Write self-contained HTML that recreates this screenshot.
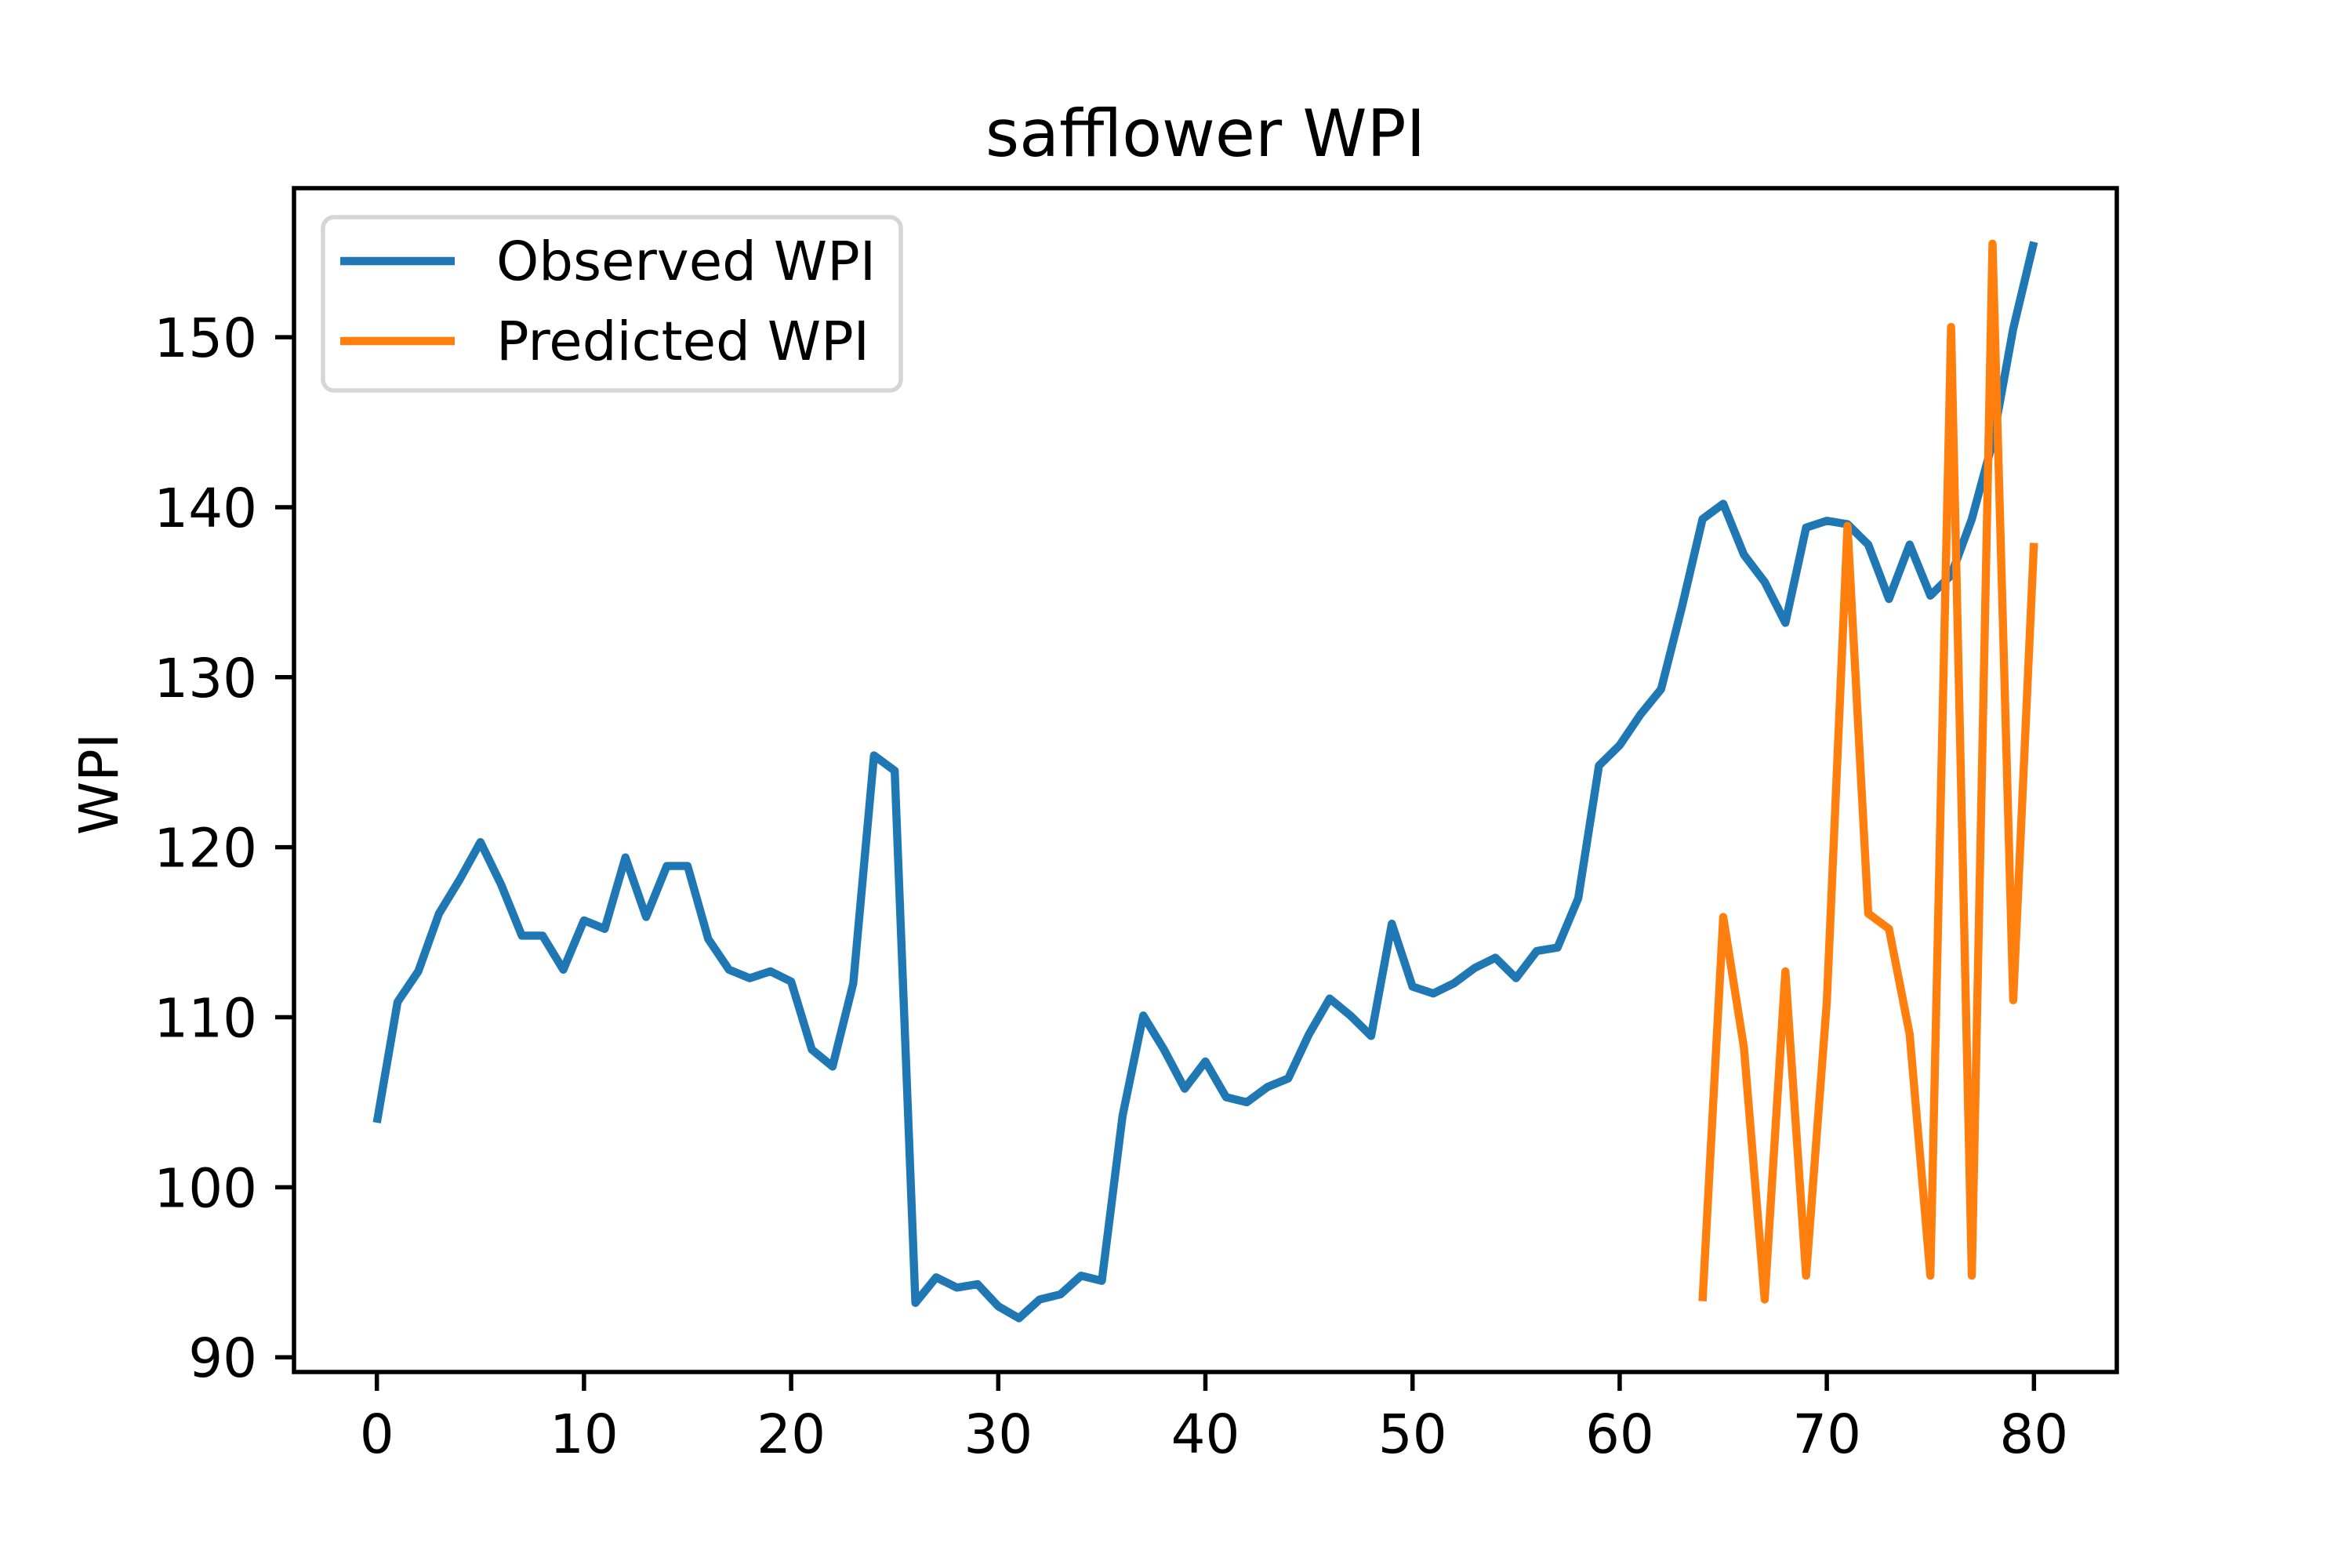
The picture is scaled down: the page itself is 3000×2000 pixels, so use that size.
<!DOCTYPE html>
<html><head><meta charset="utf-8"><style>
html,body{margin:0;padding:0;background:#fff;}
svg{display:block;font-family:"DejaVu Sans","Liberation Sans",sans-serif;}
</style></head><body>
<svg id="chart" width="3000" height="2000" viewBox="0 0 3000 2000" xmlns="http://www.w3.org/2000/svg">
<rect width="3000" height="2000" fill="#fff"/>
<text x="1537.5" y="199" font-size="83" text-anchor="middle" fill="#000">safflower WPI</text>
<text transform="translate(150,1000) rotate(-90)" font-size="69" text-anchor="middle" fill="#000">WPI</text>
<g id="plot"></g>
<rect x="375" y="240" width="2325" height="1510" fill="none" stroke="#000" stroke-width="5.5"/>
<g>
<rect x="412" y="277" width="737" height="221" rx="14" fill="#fff" fill-opacity="0.8" stroke="#d6d6d6" stroke-width="5.5"/>
<line x1="434" y1="333" x2="580" y2="333" stroke="#1f77b4" stroke-width="10.4"/>
<text x="633" y="357" font-size="69">Observed WPI</text>
<line x1="434" y1="435" x2="580" y2="435" stroke="#ff7f0e" stroke-width="10.4"/>
<text x="633" y="459" font-size="69">Predicted WPI</text>
</g>
</svg>
<script>
const observedX = Array.from({length:81},(_,i)=>i);
const observedWPI = [103.8,110.9,112.7,116.1,118.1,120.3,117.8,114.8,114.8,112.8,115.7,115.2,119.4,115.9,118.9,118.9,114.6,112.8,112.3,112.7,112.1,108.1,107.1,112.0,125.4,124.5,93.2,94.7,94.1,94.3,93.0,92.3,93.4,93.7,94.8,94.5,104.2,110.1,108.1,105.8,107.4,105.3,105.0,105.9,106.4,109.0,111.1,110.1,108.9,115.5,111.8,111.4,112.0,112.9,113.5,112.3,113.9,114.1,117.0,124.8,126.0,127.8,129.3,134.1,139.3,140.2,137.2,135.6,133.2,138.8,139.2,139.0,137.8,134.6,137.8,134.8,136.0,139.3,143.8,150.5,155.6];
const predictedX = [64,65,66,67,68,69,70,71,72,73,74,75,76,77,78,79,80];
const predictedWPI = [93.3,115.9,108.2,93.4,112.7,94.8,110.9,138.9,116.1,115.2,109.0,94.8,150.6,94.8,155.5,111.0,137.9];
const xTicks = [0,10,20,30,40,50,60,70,80];
const yTicks = [90,100,110,120,130,140,150];

const NS="http://www.w3.org/2000/svg";
const L=375,R=2700,T=240,B=1750;
const all=observedWPI.concat(predictedWPI);
const ymin0=Math.min(...all), ymax0=Math.max(...all), yr=ymax0-ymin0;
const ymin=ymin0-0.05*yr, ymax=ymax0+0.05*yr;
const xmin=-4, xmax=84;
const sx=v=>L+(v-xmin)/(xmax-xmin)*(R-L);
const sy=v=>B-(v-ymin)/(ymax-ymin)*(B-T);
const plot=document.getElementById('plot');
function mk(tag,attrs){const e=document.createElementNS(NS,tag);for(const k in attrs)e.setAttribute(k,attrs[k]);return e;}

xTicks.forEach(t=>{
  const l=mk('line',{x1:sx(t),x2:sx(t),y1:B,y2:B+24,stroke:'#000','stroke-width':5.5});
  
  
  plot.appendChild(l);
  const tx=mk('text',{x:sx(t),y:1853,'font-size':69,'text-anchor':'middle'});
  
  
  tx.textContent=t;plot.appendChild(tx);
});
yTicks.forEach(t=>{
  const l=mk('line',{x1:L-24,x2:L,y1:sy(t),y2:sy(t),stroke:'#000','stroke-width':5.5});
  
  
  plot.appendChild(l);
  const tx=mk('text',{x:L-47,y:sy(t)+25,'font-size':69,'text-anchor':'end'});
  
  
  tx.textContent=t;plot.appendChild(tx);
});
function line(xs,ys,color,name){
  const p=mk('polyline',{points:xs.map((x,i)=>sx(x)+','+sy(ys[i])).join(' '),fill:'none',stroke:color,'stroke-width':10.4,'stroke-linejoin':'round','stroke-linecap':'butt'});
  
  
  plot.appendChild(p);
}
line(observedX,observedWPI,'#1f77b4','observed-wpi-line');
line(predictedX,predictedWPI,'#ff7f0e','predicted-wpi-line');
</script>
</body></html>
